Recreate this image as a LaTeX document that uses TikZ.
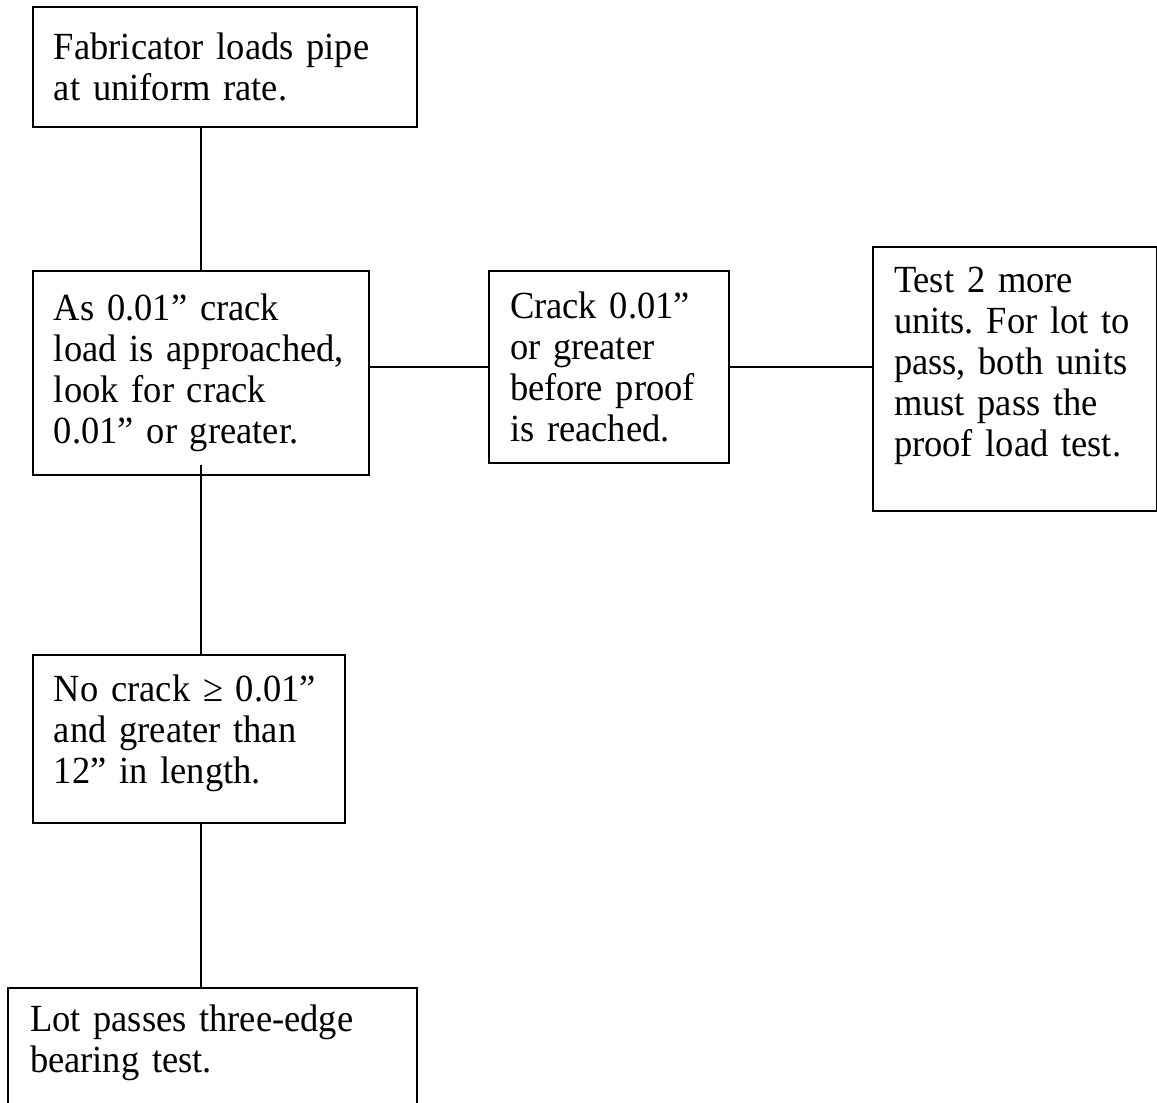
\documentclass[tikz,border=0pt]{standalone}
\usepackage{fontspec}
\setmainfont{Liberation Serif}[FakeStretch=0.95]
\begin{document}
\begin{tikzpicture}[x=0.5pt,y=-0.5pt,line width=1pt,
  box/.style={draw,anchor=north west,align=left,inner xsep=10.5pt,inner ysep=3pt,font={\fontsize{19.2}{20.5}\selectfont\frenchspacing\hyphenpenalty=10000}},
  lift/.style={execute at end node={\endgraf\kern#1}}]
\useasboundingbox (0,0) rectangle (1157,1103);
\node[box,text width=171pt,minimum height=60pt] (load) at (32,6) {Fabricator loads pipe\\at uniform rate.};
\node[box,text width=147pt,minimum height=102pt] (approach) at (32,270) {As 0.01” crack\\load is approached,\\look for crack\\0.01” or greater.};
\node[box,text width=99pt,minimum height=96pt] (crack) at (488,270) {Crack 0.01”\\or greater\\before proof\\is reached.};
\node[box,lift=13pt,text width=121pt,minimum height=132pt] (retest) at (872,246) {Test 2 more\\units. For lot to\\pass, both units\\must pass the\\proof load test.};
\node[box,lift=6pt,text width=135pt,minimum height=84pt] (nocrack) at (32,654) {No crack ≥ 0.01”\\and greater than\\12” in length.};
\node[box,lift=4pt,inner xsep=11pt,text width=182.5pt,minimum height=59pt] (pass) at (7,987) {Lot passes three-edge\\bearing test.};
\draw (approach.north |- load.south) -- (approach.north);
\draw (approach.east |- crack.west) -- (crack.west);
\draw (crack.east) -- (crack.east -| retest.west);
\draw ([yshift=5.5pt]approach.south) -- (approach.south |- nocrack.north);
\draw (approach.south |- nocrack.south) -- (approach.south |- pass.north);
\end{tikzpicture}
\end{document}
